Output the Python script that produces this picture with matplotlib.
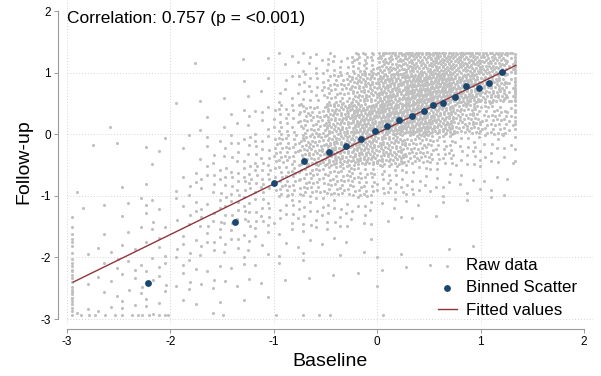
import numpy as np
import matplotlib
matplotlib.use('Agg')
import matplotlib.pyplot as plt

plt.rcParams['font.family'] = ['Liberation Sans', 'DejaVu Sans']

raw_x_edges = [-2.95, -2.75, -2.5, -2.25, -2.0, -1.75, -1.5, -1.25, -1.0, -0.75,
               -0.5, -0.25, 0.0, 0.25, 0.5, 0.75, 1.0, 1.25, 1.33]
raw_y_edges = [-2.93, -2.5, -2.0, -1.5, -1.0, -0.5, 0.0, 0.5, 1.0, 1.32]
raw_counts = [
    [3, 4, 5, 5, 3, 2, 1, 1, 0, 0, 0, 0, 0, 0, 0, 0, 0, 0],
    [2, 5, 6, 7, 6, 5, 4, 3, 2, 2, 1, 2, 1, 1, 1, 0, 0, 0],
    [1, 3, 4, 5, 6, 8, 8, 7, 5, 5, 4, 3, 1, 0, 1, 1, 0, 0],
    [1, 1, 3, 6, 7, 10, 14, 15, 14, 12, 12, 10, 5, 3, 2, 1, 1, 0],
    [1, 0, 1, 1, 6, 10, 15, 20, 30, 36, 38, 32, 22, 13, 9, 6, 4, 1],
    [1, 1, 0, 4, 2, 6, 10, 14, 35, 55, 75, 85, 70, 50, 30, 18, 12, 2],
    [0, 1, 0, 0, 0, 2, 4, 8, 22, 42, 72, 105, 120, 115, 90, 58, 38, 6],
    [0, 0, 0, 0, 1, 1, 2, 3, 9, 18, 38, 70, 100, 125, 125, 100, 70, 10],
    [0, 0, 0, 0, 1, 0, 1, 1, 4, 6, 12, 25, 45, 55, 65, 60, 48, 7],
]
# clipped values sitting on the edges of the data range
left_edge_counts = [9, 8, 6, 1, 0, 0, 0, 0, 0]      # x = -2.95, per y bin
right_edge_counts = [0, 0, 0, 0, 0, 3, 7, 12, 8]    # x = 1.33, per y bin
bottom_edge_counts = [2, 3, 4, 4, 0, 0, 1, 0, 1, 2, 1, 0, 1, 0, 0, 0, 0, 0]  # y = -2.93
top_edge_counts = [0, 0, 0, 0, 0, 0, 0, 0, 0, 1, 1, 3, 8, 9, 9, 9, 8, 3]     # y = 1.32

# binned scatter
bin_x = [-2.22, -1.38, -1.0, -0.71, -0.47, -0.30, -0.16, -0.02, 0.09, 0.21,
         0.34, 0.45, 0.54, 0.64, 0.75, 0.86, 0.98, 1.08, 1.21]
bin_y = [-2.42, -1.43, -0.79, -0.43, -0.29, -0.19, -0.08, 0.05, 0.14, 0.23,
         0.29, 0.38, 0.47, 0.51, 0.60, 0.78, 0.75, 0.83, 1.01]

# fitted line
fit_coef = [0.822, 0.017]
fit_range = [-2.94, 1.34]

corr_text = 'Correlation: 0.757 (p = <0.001)'
ticks = [-3, -2, -1, 0, 1, 2]
grid_ticks = [-3, -2, -1, 0, 1]

# spread each cell's count over the cell with a low-discrepancy sequence
a1, a2 = 0.7548776662, 0.5698402910
gold = 0.6180339887
raw_x, raw_y = [], []
for r in range(len(raw_y_edges) - 1):
    y0, y1 = raw_y_edges[r], raw_y_edges[r + 1]
    for c in range(len(raw_x_edges) - 1):
        x0, x1 = raw_x_edges[c], raw_x_edges[c + 1]
        n = raw_counts[r][c]
        k = np.arange(1, n + 1) + 37 * (r * 18 + c)
        raw_x.extend(x0 + (x1 - x0) * ((0.5 + a1 * k) % 1))
        raw_y.extend(y0 + (y1 - y0) * ((0.5 + a2 * k) % 1))
    for count, xpos in ((left_edge_counts[r], raw_x_edges[0]), (right_edge_counts[r], raw_x_edges[-1])):
        k = np.arange(1, count + 1) + 11 * r
        raw_x.extend([xpos] * count)
        raw_y.extend(y0 + (y1 - y0) * ((0.3 + gold * k) % 1))
for c in range(len(raw_x_edges) - 1):
    x0, x1 = raw_x_edges[c], raw_x_edges[c + 1]
    for count, ypos in ((bottom_edge_counts[c], raw_y_edges[0]), (top_edge_counts[c], raw_y_edges[-1])):
        k = np.arange(1, count + 1) + 13 * c
        raw_x.extend(x0 + (x1 - x0) * ((0.2 + gold * k) % 1))
        raw_y.extend([ypos] * count)

fig = plt.figure(figsize=(6.01, 3.76), dpi=100)
ax = fig.add_axes([0.1115, 0.1383, 0.8752, 0.8617])

for t in grid_ticks:
    ax.axhline(t, color='#d4d4d4', lw=0.7, ls=(0, (1, 2)), zorder=0)
    ax.axvline(t, color='#d4d4d4', lw=0.7, ls=(0, (1, 2)), zorder=0)

h_raw = ax.scatter(raw_x, raw_y, s=5, color='#c0c0c0', linewidths=0, zorder=1, label='Raw data')
fx = np.array(fit_range)
h_fit, = ax.plot(fx, np.polyval(fit_coef, fx), color='#90353b', lw=1.0, zorder=2, label='Fitted values')
h_bin = ax.scatter(bin_x, bin_y, s=24, color='#1a476f', linewidths=0, zorder=3, label='Binned Scatter')

ax.set_xlim(-3, 2.087)
ax.set_ylim(-3.08, 2.18)
ax.set_xticks(ticks)
ax.set_yticks(ticks)
ax.set_xticklabels([str(t) for t in ticks])
ax.set_yticklabels([str(t) for t in ticks])

for side in ('top', 'right'):
    ax.spines[side].set_visible(False)
ax.spines['left'].set_position(('outward', 6.5))
ax.spines['bottom'].set_position(('outward', 3.4))
ax.spines['left'].set_bounds(-3, 2)
ax.spines['bottom'].set_bounds(-3, 2)
for side in ('left', 'bottom'):
    ax.spines[side].set_color('#9a9a9a')
    ax.spines[side].set_linewidth(0.8)
ax.tick_params(direction='out', length=3, width=0.7, color='#9a9a9a', labelsize=8.5, pad=2)

ax.set_xlabel('Baseline', fontsize=14, labelpad=4)
ax.set_ylabel('Follow-up', fontsize=14, labelpad=6)

ax.text(-3, 1.81, corr_text, fontsize=12.5, ha='left', va='baseline')

ax.legend([h_raw, h_bin, h_fit], ['Raw data', 'Binned Scatter', 'Fitted values'],
          loc='lower right', bbox_to_anchor=(0.97, 0.02), frameon=False, fontsize=12.2,
          handlelength=1.1, handletextpad=0.55, labelspacing=0.42, borderpad=0, borderaxespad=0)

fig.savefig('out.png', dpi=100)
